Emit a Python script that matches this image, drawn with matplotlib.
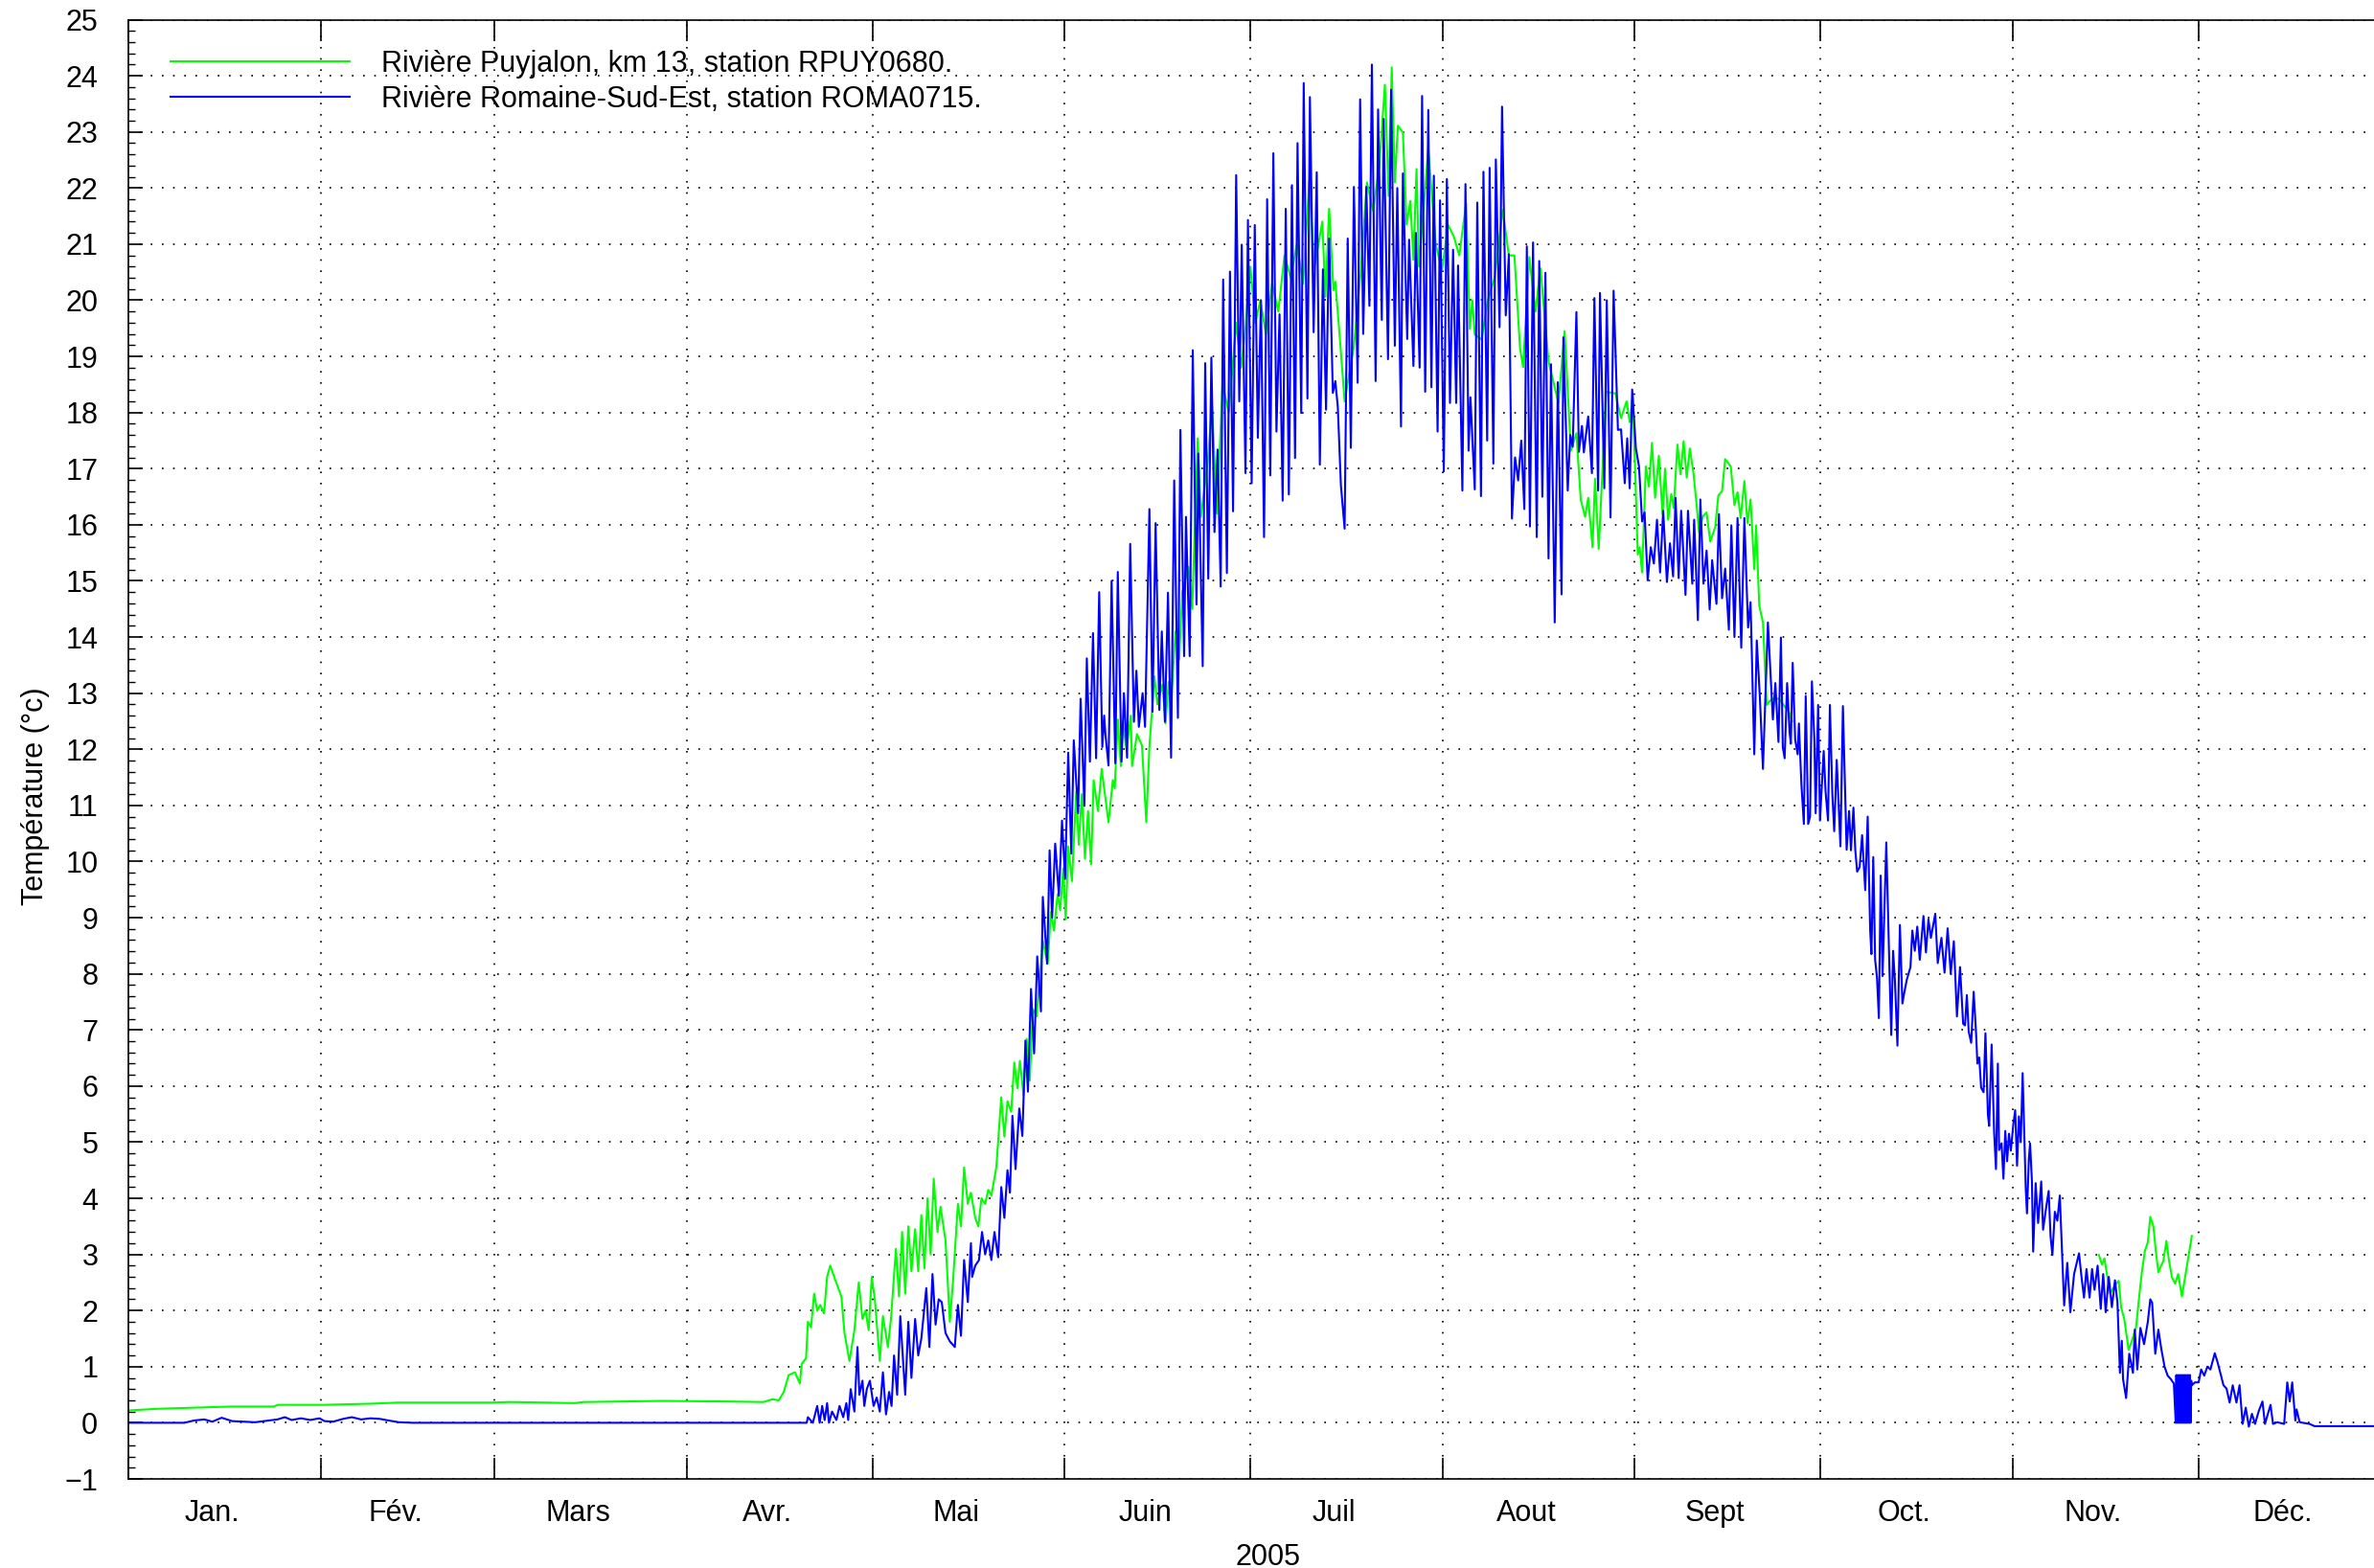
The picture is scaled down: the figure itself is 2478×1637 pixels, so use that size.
import numpy as np
import matplotlib
matplotlib.use("Agg")
import matplotlib.pyplot as plt
from matplotlib.ticker import MultipleLocator, FixedLocator, NullFormatter, FixedFormatter

plt.rcParams['font.family'] = ['Liberation Sans', 'DejaVu Sans']

# ---------------- data (day of year 2005, temperature °C) ----------------
months = ['Jan.', 'Fév.', 'Mars', 'Avr.', 'Mai', 'Juin', 'Juil', 'Aout', 'Sept', 'Oct.', 'Nov.', 'Déc.']
month_starts = [0, 31, 59, 90, 120, 151, 181, 212, 243, 273, 304, 334, 365]

label_green = "Rivière Puyjalon, km 13, station RPUY0680."
label_blue = "Rivière Romaine-Sud-Est, station ROMA0715."

green_pts = [
    (0, 0.22), (4.7, 0.25), (10.7, 0.27), (16.7, 0.29), (23.4, 0.29), (24.1, 0.32), (31.6, 0.32),
    (39, 0.34), (43.5, 0.36), (58.5, 0.36), (61.5, 0.37), (67.4, 0.36), (71.9, 0.35), (73.4, 0.37),
    (86.1, 0.39), (96.4, 0.38), (102.4, 0.37), (103.9, 0.42), (104.9, 0.4), (105.7, 0.55), (106.5, 0.85),
    (107.5, 0.9), (108.3, 0.7), (108.6, 1.05), (109.3, 1.15), (109.6, 1.8), (110.1, 1.7), (110.6, 2.3),
    (111.1, 2.0), (111.6, 2.1), (112.2, 1.95), (112.7, 2.6), (113.2, 2.8), (114.0, 2.55), (115.0, 2.25),
    (115.5, 1.6), (116.3, 1.1), (117.1, 1.65), (117.8, 2.5), (118.4, 1.85), (118.9, 2.0), (119.4, 1.65),
    (119.9, 2.6), (120.4, 2.2), (121.2, 1.1), (121.7, 1.9), (122.5, 1.35), (123.0, 1.85), (123.8, 3.1),
    (124.3, 2.25), (124.8, 3.4), (125.3, 2.3), (125.8, 3.5), (126.3, 2.7), (126.9, 3.45), (127.4, 2.7),
    (127.9, 3.7), (128.4, 2.75), (128.9, 4.0), (129.4, 3.0), (129.9, 4.35), (130.5, 3.4), (131.0, 3.85),
    (131.8, 3.25), (132.5, 1.8), (133.0, 2.5), (133.8, 3.9), (134.3, 3.5), (134.8, 4.55), (135.4, 3.9),
    (135.9, 4.1), (136.6, 3.65), (137.1, 3.5), (137.6, 4.0), (138.2, 3.9), (138.7, 4.15), (139.2, 4.05),
    (140.0, 4.55), (140.8, 5.8), (141.3, 5.1), (141.8, 5.73), (142.4, 5.54), (142.9, 6.42), (143.4, 5.96),
    (143.8, 6.45), (144.4, 5.83), (144.9, 6.84), (145.4, 6.1), (145.9, 7.37), (146.5, 7.24), (147.0, 7.89),
    (147.5, 8.58), (148.3, 8.18), (148.8, 9.1), (149.3, 8.77), (149.9, 9.42), (150.3, 9.13), (150.8, 9.88),
    (151.2, 8.97), (151.6, 10.27), (152.2, 9.65), (152.9, 11.25), (153.3, 10.3), (153.8, 11.2), (154.3, 10.05),
    (154.8, 10.9), (155.3, 9.95), (155.7, 11.45), (156.4, 10.9), (157.0, 11.65), (158.1, 10.7), (158.8, 11.45),
    (159.1, 11.3), (159.6, 12.53), (160.1, 11.7), (160.4, 12.5), (161.0, 12.0), (161.7, 12.6), (161.9, 11.7),
    (162.7, 12.27), (163.5, 12.07), (164.2, 10.7), (164.7, 12.04), (165.5, 13.3), (166.0, 12.8), (166.8, 13.15),
    (167.3, 12.46), (167.8, 13.2), (168.3, 13.0), (168.9, 14.1), (169.5, 13.6), (170.0, 14.8), (171.0, 15.25),
    (171.6, 14.5), (172.5, 17.54), (173.0, 16.14), (174.1, 17.1), (174.8, 18.1), (175.6, 16.2), (176.5, 18.5),
    (177.5, 18.0), (178.7, 19.6), (179.5, 18.8), (180.2, 19.5), (181.0, 20.6), (181.8, 19.6), (182.6, 20.0),
    (183.5, 19.4), (184.5, 20.3), (185.5, 19.8), (186.5, 20.8), (187.5, 20.4), (188.5, 21.0), (189.5, 20.3),
    (190.5, 22.13), (191.3, 20.57), (192.6, 21.4), (193.1, 20.06), (193.7, 21.63), (194.4, 20.18), (194.7, 20.33),
    (195.4, 19.37), (196.2, 18.2), (197.7, 19.19), (198.8, 20.5), (199.8, 22.1), (200.8, 21.59), (201.8, 22.4),
    (202.7, 23.84), (203.3, 21.86), (203.8, 24.15), (204.3, 22.1), (204.8, 23.11), (205.6, 22.99), (206.2, 21.35),
    (206.8, 21.77), (207.3, 20.72), (207.8, 22.34), (208.2, 20.6), (209.7, 22.7), (210.9, 21.0), (211.9, 20.53),
    (212.9, 21.34), (213.8, 21.14), (214.7, 20.8), (215.8, 21.72), (216.4, 19.49), (216.8, 20.0), (217.2, 19.39),
    (218.3, 19.3), (219.3, 20.0), (220.4, 20.4), (221.7, 21.61), (222.7, 20.8), (223.6, 20.8), (224.5, 19.15),
    (225.0, 18.81), (226.0, 20.77), (227.0, 19.8), (227.8, 20.57), (229.1, 18.91), (230.7, 18.17), (231.7, 19.45),
    (232.7, 17.32), (233.6, 17.63), (234.3, 16.45), (235.0, 16.14), (235.5, 16.48), (236.2, 15.6), (236.6, 16.82),
    (237.2, 15.57), (238.4, 18.37), (239.9, 18.34), (240.8, 17.9), (241.7, 18.2), (242.2, 17.83), (242.7, 18.3),
    (243.5, 15.47), (243.8, 15.6), (244.2, 15.15), (244.8, 17.04), (245.3, 16.68), (245.8, 17.46), (246.3, 16.48),
    (246.9, 17.23), (247.5, 16.19), (247.9, 17.0), (248.4, 16.09), (248.9, 16.55), (249.3, 16.3), (249.9, 17.43),
    (250.4, 16.9), (250.9, 17.49), (251.4, 16.84), (251.9, 17.36), (252.5, 16.91), (253.0, 16.35), (253.4, 15.86),
    (254.0, 16.15), (254.6, 16.22), (255.2, 15.7), (256.0, 15.96), (256.5, 16.52), (257.1, 16.6), (257.6, 17.17),
    (258.5, 17.04), (259.1, 16.35), (259.6, 16.58), (260.1, 16.12), (260.7, 16.78), (261.2, 16.03), (261.7, 16.45),
    (262.3, 15.21), (262.6, 15.99), (263.1, 14.56), (263.7, 14.26), (264.3, 12.79), (264.8, 12.86), (265.3, 12.9),
    (266.3, 12.9), (267.9, 12.66), (268.4, 12.5), (269.0, np.nan),
    (317.9, 2.99), (318.4, 2.82), (318.8, 2.93), (319.2, 2.65), (319.7, 2.3), (320.5, 2.45), (321.1, 2.53),
    (321.5, 2.05), (322.0, 1.85), (322.7, 1.3), (323.2, 1.45), (323.9, 1.7), (324.3, 2.14), (324.8, 2.65),
    (325.3, 3.05), (325.8, 3.22), (326.2, 3.67), (326.7, 3.5), (327.1, 3.05), (327.5, 2.68), (327.9, 2.79),
    (328.3, 2.88), (328.8, 3.24), (329.2, 2.9), (329.7, 2.59), (330.2, 2.48), (330.7, 2.65), (331.3, 2.25),
    (331.8, 2.59), (332.3, 2.93), (332.9, 3.33),
]

blue_pts = [
    (0, 0.0), (9, 0.0), (10.5, 0.04), (12.2, 0.06), (13.5, 0.02), (15, 0.09), (16.7, 0.03), (20.4, 0.01),
    (22.6, 0.04), (24, 0.06), (25.2, 0.1), (26.3, 0.05), (27.8, 0.08), (29.3, 0.05), (30.8, 0.08), (31.6, 0.03),
    (33, 0.02), (34.6, 0.07), (36, 0.1), (37.5, 0.06), (39, 0.08), (40.5, 0.07), (42, 0.04), (43.6, 0.01),
    (45.8, 0.0), (109.4, 0.0),
    (109.6, 0.1), (110.4, 0.0), (111.1, 0.3), (111.5, 0.0), (111.9, 0.3), (112.3, 0.05), (112.7, 0.35),
    (113.0, 0.0), (113.5, 0.2), (114.2, 0.05), (114.7, 0.3), (115.3, 0.1), (115.8, 0.35), (116.1, 0.05),
    (116.5, 0.6), (117.1, 0.2), (117.6, 1.35), (117.9, 0.5), (118.4, 0.75), (118.7, 0.3), (119.1, 0.6),
    (119.6, 0.75), (120.2, 0.3), (120.7, 0.45), (121.2, 0.2), (121.7, 0.9), (122.2, 0.15), (122.7, 0.55),
    (123.1, 0.3), (123.5, 1.2), (124.0, 0.5), (124.5, 1.9), (125.3, 0.5), (125.8, 1.8), (126.3, 0.8),
    (126.9, 1.85), (127.4, 1.2), (127.9, 1.5), (128.7, 2.4), (129.2, 1.35), (129.7, 2.65), (130.2, 1.75),
    (130.7, 2.2), (131.2, 2.15), (131.8, 1.6), (132.5, 1.45), (133.3, 1.35), (133.8, 2.1), (134.3, 1.55),
    (134.8, 2.9), (135.4, 2.15), (135.9, 3.2), (136.1, 2.6), (136.6, 2.8), (137.2, 2.9), (137.7, 3.4),
    (138.2, 3.0), (138.7, 3.25), (139.2, 2.9), (139.7, 3.4), (140.3, 2.95), (140.8, 4.2), (141.3, 3.65),
    (141.8, 4.5), (142.2, 4.1), (142.6, 5.47), (143.1, 4.52), (143.7, 5.6), (144.2, 5.11), (144.7, 6.81),
    (145.1, 5.9), (145.6, 7.73), (146.1, 6.58), (146.6, 8.31), (147.2, 7.33), (147.5, 9.37), (148.2, 8.18),
    (148.6, 10.2), (149.0, 9.0), (149.5, 10.32), (150.1, 9.39), (150.6, 10.73), (151.1, 9.69), (151.6, 11.94),
    (152.1, 10.14), (152.5, 12.16), (153.2, 10.86), (153.6, 12.9), (154.2, 10.99), (154.6, 13.62), (155.1, 11.78),
    (155.6, 14.07), (156.1, 11.84), (156.6, 14.8), (157.1, 12.04), (157.4, 12.6), (157.6, 12.27), (158.1, 11.71),
    (158.6, 15.0), (159.2, 11.75), (159.6, 15.16), (160.2, 11.78), (160.6, 13.0), (161.1, 11.85), (161.6, 15.66),
    (162.2, 12.49), (162.6, 13.4), (163.0, 12.4), (163.6, 13.0), (164.0, 12.4), (164.7, 16.28), (165.2, 12.67),
    (165.7, 16.03), (166.3, 12.7), (166.7, 14.1), (167.2, 12.49), (167.7, 14.79), (168.2, 11.85), (168.7, 16.79),
    (169.3, 12.56), (169.7, 17.69), (170.3, 13.66), (170.6, 16.14), (171.2, 13.66), (171.7, 19.11), (172.3, 14.58),
    (172.6, 17.27), (173.3, 13.48), (173.7, 18.88), (174.2, 15.04), (174.7, 18.98), (175.2, 15.87), (175.7, 17.34),
    (176.2, 14.9), (176.6, 20.37), (177.2, 15.14), (177.7, 20.51), (178.2, 16.24), (178.7, 22.23), (179.2, 18.2),
    (179.6, 20.99), (180.2, 16.92), (180.6, 21.43), (181.2, 16.74), (181.7, 21.34), (182.2, 17.55), (182.7, 20.0),
    (183.2, 15.78), (183.7, 21.8), (184.2, 16.88), (184.7, 22.62), (185.2, 17.66), (185.7, 19.75), (186.2, 16.43),
    (186.7, 21.63), (187.2, 16.54), (187.7, 22.05), (188.2, 17.19), (188.6, 22.8), (189.2, 17.99), (189.6, 23.87),
    (190.2, 18.25), (190.6, 23.62), (191.2, 19.43), (191.7, 22.28), (192.2, 17.07), (192.7, 20.55), (193.2, 18.05),
    (193.7, 21.1), (194.3, 18.35), (194.7, 18.56), (195.1, 18.1), (195.6, 16.7), (196.2, 15.93), (196.7, 21.1),
    (197.2, 17.37), (197.7, 22.02), (198.3, 18.53), (198.7, 23.58), (199.2, 19.4), (199.7, 22.02), (200.2, 19.9),
    (200.6, 24.2), (201.2, 18.56), (201.6, 23.4), (202.2, 19.65), (202.5, 23.23), (203.2, 18.95), (203.7, 23.75),
    (204.3, 19.19), (204.7, 22.0), (205.3, 17.75), (205.6, 22.26), (206.3, 19.31), (206.6, 21.08), (207.3, 18.83),
    (207.7, 21.2), (208.3, 18.8), (208.7, 23.64), (209.2, 18.37), (209.7, 23.39), (210.2, 18.45), (210.6, 22.22),
    (211.2, 17.66), (211.6, 21.78), (212.2, 16.95), (212.7, 22.16), (213.2, 18.17), (213.7, 20.9), (214.2, 18.17),
    (214.5, 20.62), (215.2, 16.61), (215.7, 22.07), (216.2, 17.32), (216.5, 18.27), (217.2, 16.63), (217.6, 21.74),
    (218.2, 16.51), (218.6, 22.29), (219.2, 17.5), (219.6, 22.36), (220.2, 17.09), (220.6, 22.51), (221.2, 19.52),
    (221.6, 23.45), (222.2, 19.73), (222.7, 20.82), (223.2, 16.11), (223.7, 17.2), (224.2, 16.79), (224.7, 17.5),
    (225.2, 16.28), (225.6, 20.96), (226.1, 15.97), (226.6, 21.03), (227.2, 15.78), (227.6, 20.7), (228.1, 16.5),
    (228.6, 20.49), (229.1, 15.4), (229.5, 18.86), (230.1, 14.26), (230.6, 18.54), (231.2, 14.76), (231.5, 19.34),
    (232.2, 16.61), (232.6, 17.6), (233.0, 17.39), (233.6, 19.79), (234.0, 17.3), (234.5, 17.76), (234.8, 17.29),
    (235.5, 17.93), (236.1, 16.92), (236.5, 20.04), (237.1, 16.61), (237.4, 20.13), (238.1, 16.65), (238.5, 20.0),
    (239.1, 16.13), (239.6, 20.17), (240.3, 17.69), (240.8, 17.7), (241.4, 16.74), (241.8, 17.54), (242.2, 16.65),
    (242.6, 18.41), (243.2, 17.36), (243.7, 17.04), (244.2, 16.06), (244.6, 16.22), (245.1, 15.01), (245.6, 15.6),
    (246.1, 15.31), (246.6, 16.09), (247.1, 15.15), (247.6, 16.25), (248.2, 14.98), (248.7, 15.67), (249.2, 15.08),
    (249.6, 16.48), (250.1, 15.05), (250.5, 16.25), (251.2, 14.75), (251.6, 16.25), (252.3, 14.95), (252.6, 16.09),
    (253.2, 14.3), (253.6, 16.45), (254.1, 14.95), (254.6, 15.54), (255.1, 14.49), (255.5, 15.37), (256.2, 14.59),
    (256.6, 16.19), (257.1, 14.69), (257.6, 15.22), (258.2, 14.13), (258.6, 15.99), (259.1, 14.0), (259.6, 16.12),
    (260.2, 13.81), (260.7, 16.12), (261.3, 14.17), (261.7, 14.62), (262.3, 11.91), (262.7, 13.94), (263.2, 12.93),
    (263.7, 11.65), (264.5, 14.26), (265.3, 12.53), (265.7, 13.18), (266.2, 12.13), (266.6, 13.99), (266.9, 12.04),
    (267.2, 11.84), (267.6, 13.18), (268.0, 12.3), (268.2, 12.1), (268.5, 13.54), (268.9, 12.17), (269.3, 11.91),
    (269.5, 12.46), (269.9, 11.38), (270.3, 10.67), (270.6, 12.95), (271.0, 10.67), (271.3, 10.8), (271.6, 13.21),
    (272.0, 12.17), (272.2, 10.86), (272.6, 12.79), (272.9, 10.73), (273.5, 11.97), (273.8, 11.25), (274.2, 10.73),
    (274.5, 12.79), (274.9, 11.19), (275.2, 10.54), (275.6, 11.81), (276.2, 10.27), (276.6, 12.77), (277.2, 10.21),
    (277.6, 10.9), (277.9, 10.2), (278.3, 10.96), (278.6, 10.2), (278.9, 9.82), (279.3, 9.9), (279.7, 10.47),
    (280.2, 9.49), (280.6, 10.8), (281.0, 8.77), (281.2, 8.35), (281.5, 10.08), (281.8, 8.25), (282.1, 7.93),
    (282.4, 7.21), (282.7, 9.75), (283.0, 7.96), (283.6, 10.34), (284.1, 8.12), (284.4, 6.91), (284.7, 8.41),
    (285.0, 7.86), (285.4, 6.72), (285.8, 8.87), (286.2, 7.47), (286.5, 7.66), (286.9, 7.89), (287.5, 8.12),
    (287.8, 8.77), (288.2, 8.41), (288.6, 8.84), (289.0, 8.25), (289.6, 9.03), (290.0, 8.38), (290.4, 8.97),
    (290.8, 8.64), (291.5, 9.07), (291.9, 8.19), (292.5, 8.64), (293.0, 8.02), (293.5, 8.81), (294.0, 8.0),
    (294.5, 8.58), (295.0, 7.24), (295.5, 8.12), (296.0, 7.11), (296.3, 7.08), (296.6, 7.62), (296.9, 6.97),
    (297.3, 6.77), (297.7, 7.68), (298.1, 6.91), (298.3, 6.4), (298.6, 6.51), (298.9, 5.97), (299.3, 5.89),
    (299.6, 6.94), (300.0, 5.49), (300.2, 5.29), (300.6, 6.74), (301.0, 5.18), (301.3, 4.52), (301.6, 6.4),
    (301.8, 4.86), (302.2, 4.98), (302.5, 4.35), (302.8, 5.2), (303.1, 4.66), (303.4, 5.15), (303.7, 4.85),
    (304.1, 5.32), (304.4, 5.57), (304.7, 4.58), (305.0, 5.46), (305.3, 5.0), (305.6, 6.23), (306.1, 4.18),
    (306.3, 3.73), (306.6, 4.69), (306.8, 4.98), (307.1, 4.3), (307.3, 3.05), (307.7, 4.27), (308.1, 3.56),
    (308.6, 4.3), (308.9, 3.44), (309.4, 3.84), (309.8, 4.13), (310.1, 3.33), (310.4, 2.99), (310.8, 3.76),
    (311.2, 3.6), (311.6, 4.05), (312.3, 2.09), (312.8, 2.85), (313.3, 1.97), (313.9, 2.65), (314.7, 3.02),
    (315.1, 2.6), (315.5, 2.23), (315.9, 2.74), (316.4, 2.23), (316.8, 2.74), (317.2, 2.37), (317.7, 2.8),
    (318.2, 2.03), (318.6, 2.65), (319.0, 1.97), (319.5, 2.6), (320.0, 2.06), (320.5, 2.54), (320.9, 2.14),
    (321.3, 0.89), (321.6, 1.46), (321.8, 0.78), (322.3, 0.44), (322.8, 1.23), (323.4, 0.89), (323.7, 1.66),
    (324.1, 0.95), (324.6, 1.69), (325.2, 1.4), (325.8, 1.8), (326.2, 2.2), (326.5, 2.14), (327.0, 1.23),
    (327.5, 1.66), (328.0, 1.3), (328.5, 1.0), (329.0, 0.84), (329.5, 0.78), (330.0, 0.7),
    (330.3, 0.0), (330.4, 0.85), (330.5, 0.0), (330.6, 0.85), (330.7, 0.0), (330.8, 0.85), (330.9, 0.0),
    (331.0, 0.85), (331.1, 0.0), (331.2, 0.85), (331.3, 0.0), (331.4, 0.85), (331.5, 0.0), (331.6, 0.85),
    (331.7, 0.0), (331.8, 0.85), (331.9, 0.0), (332.0, 0.85), (332.1, 0.0), (332.2, 0.85), (332.3, 0.0),
    (332.4, 0.85), (332.5, 0.0), (332.6, 0.85), (332.7, 0.0), (332.8, 0.75),
    (332.9, 0.67), (333.4, 0.72), (334.0, 0.72), (334.4, 0.95), (334.9, 0.84), (335.4, 1.0), (335.9, 0.95),
    (336.6, 1.24), (337.0, 1.1), (337.5, 0.89), (338.0, 0.67), (338.5, 0.61), (339.0, 0.36), (339.5, 0.67),
    (340.1, 0.36), (340.6, 0.67), (341.1, -0.02), (341.6, 0.27), (342.1, -0.07), (342.6, 0.16), (343.1, -0.02),
    (343.7, 0.21), (344.3, 0.38), (344.7, -0.02), (345.6, 0.32), (346.0, -0.02), (346.7, 0.01), (347.8, -0.02),
    (348.3, 0.72), (348.7, 0.38), (349.1, 0.72), (349.6, 0.04), (349.8, 0.24), (350.3, 0.01), (351.9, -0.02),
    (352.7, -0.06), (365, -0.06),
]

green_day = np.array([p[0] for p in green_pts])
green_temp = np.array([p[1] for p in green_pts])
blue_day = np.array([p[0] for p in blue_pts])
blue_temp = np.array([p[1] for p in blue_pts])

# ---------------- figure ----------------
W, H, DPI = 2478, 1637, 100
fig = plt.figure(figsize=(W / DPI, H / DPI), dpi=DPI)
left = 134.3 / W
bottom = 1 - 1544 / H
top = 1 - 20.5 / H
right = 2495.5 / W
ax = fig.add_axes([left, bottom, right - left, top - bottom])

ax.plot(green_day, green_temp, color='#00ff00', lw=1.5, label=label_green)
ax.plot(blue_day, blue_temp, color='#0000ff', lw=1.5, label=label_blue)

ax.set_xlim(0, 365)
ax.set_ylim(-1, 25)

FS = 22
# y axis
ax.yaxis.set_major_locator(MultipleLocator(1))
ax.yaxis.set_minor_locator(MultipleLocator(0.2))
# x axis: month boundaries as major ticks, month names as minor (unmarked) ticks
ax.xaxis.set_major_locator(FixedLocator(month_starts))
ax.xaxis.set_major_formatter(NullFormatter())
mid = [(month_starts[i] + month_starts[i + 1]) / 2 - 2.0 for i in range(12)]
ax.xaxis.set_minor_locator(FixedLocator(mid))
ax.xaxis.set_minor_formatter(FixedFormatter(months))

ax.tick_params(axis='y', which='major', direction='in', length=11, width=1.2,
               labelsize=FS, pad=23, right=True)
ax.tick_params(axis='y', which='minor', direction='in', length=5, width=1.0, right=True)
ax.tick_params(axis='x', which='major', direction='in', length=16, width=1.2, top=True)
ax.tick_params(axis='x', which='minor', length=0, labelsize=FS, pad=15)

ax.grid(True, which='major', linestyle=(0, (1, 6)), color='black', linewidth=1.2)

for s in ax.spines.values():
    s.set_linewidth(1.2)

ax.set_xlabel('2005', fontsize=FS, labelpad=11.5)
ax.xaxis.label.set_x(0.5035)
ax.set_ylabel('Température (°c)', fontsize=FS)
ax.yaxis.set_label_coords(-0.035, 0.468)

ax.legend(loc='upper left', bbox_to_anchor=(0.0187, 0.9795), frameon=False, fontsize=FS,
          handlelength=6.1, handletextpad=1.08, labelspacing=0.24, borderpad=0, borderaxespad=0)

fig.savefig('out.png', dpi=DPI)
